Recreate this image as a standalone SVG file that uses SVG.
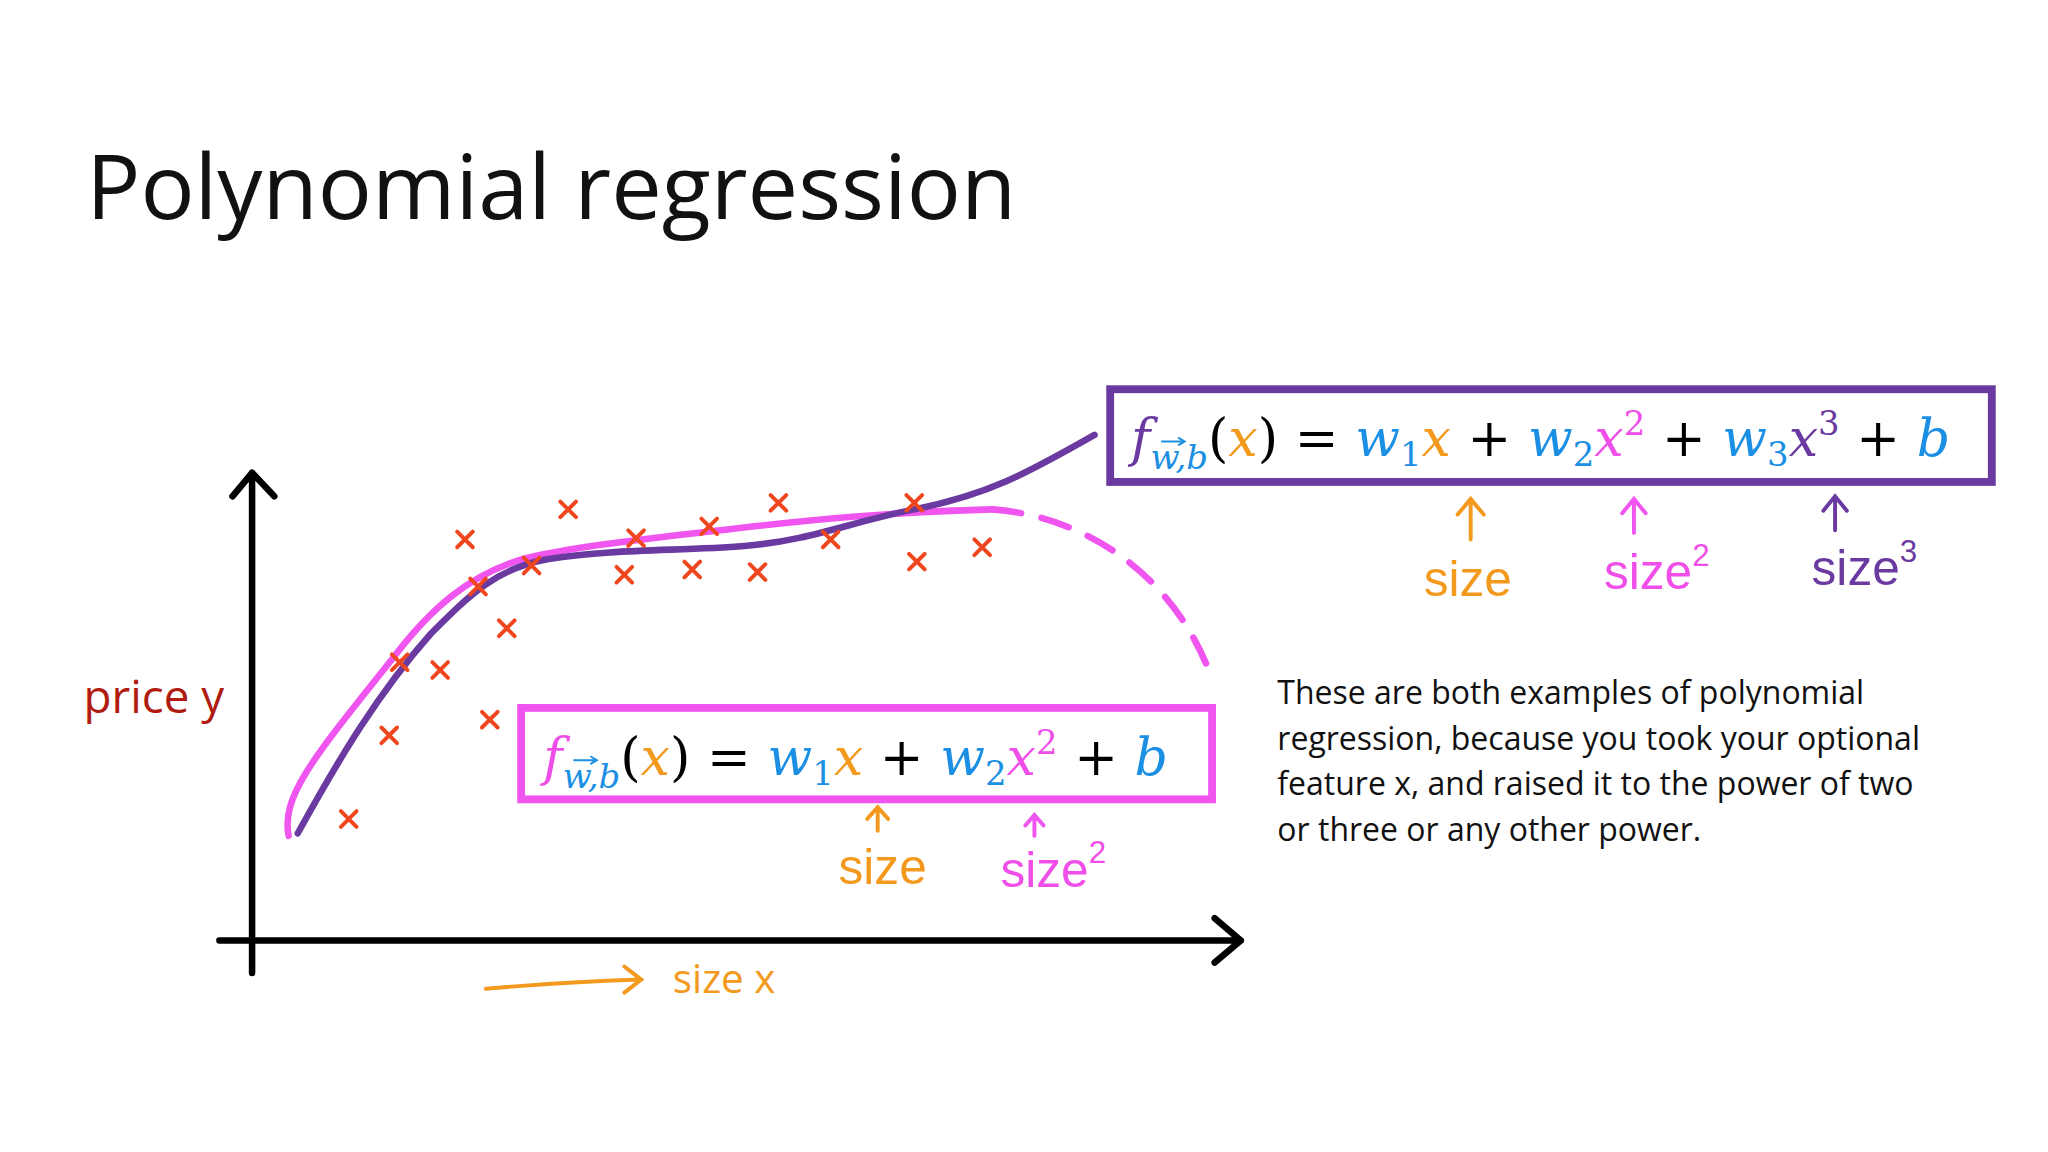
<svg xmlns="http://www.w3.org/2000/svg" width="2048" height="1152" viewBox="0 0 2048 1152">
<style>
.t{font-family:"Open Sans","Liberation Sans",sans-serif}
.m{font-family:"DejaVu Serif",serif;font-size:40px}
.i{font-style:italic}
.bl{fill:#1a8fe3}.or{fill:#f39a1e}.pk{fill:#f04ee8}.pu{fill:#6a3aa0}.k{fill:#000}
.h{font-family:"Liberation Sans",sans-serif;font-size:38px}
.x{stroke:#f0461e;stroke-width:3;stroke-linecap:round}
</style>
<defs>
<path id="cr" d="M-6,-6L6,6M-6,6L6,-6"/>
</defs>
<rect width="2048" height="1152" fill="#fff"/>
<g transform="scale(1.3061)">
<text class="t" x="66" y="168" font-size="69" fill="#111">Polynomial regression</text>
<g id="axes" stroke="#000" stroke-width="5" fill="none" stroke-linecap="round" stroke-linejoin="round">
<path d="M193,745V362M178,380L193,362L210,380"/>
<path d="M168,720H950M930,703L950,720L930,737"/>
</g>
<g id="labels">
<text class="t" x="64" y="546" font-size="35" fill="#b01c10">price y</text>
<text class="t" x="515" y="760" font-size="31" fill="#f39a1e">size x</text>
<path d="M372,757Q430,752 490,750M478,740L491,750L478,760" stroke="#f39a1e" stroke-width="3" fill="none" stroke-linecap="round"/>
</g>
<g id="curves" fill="none" stroke-linecap="round">
<path d="M221,640C215,610 240,580 300,505C330,465 360,440 400,428C440,418 500,412 560,405C620,398 680,392 760,390" stroke="#f055ef" stroke-width="5"/>
<path d="M760,390C830,395 900,440 928,520" stroke="#f055ef" stroke-width="5" stroke-dasharray="22,16"/>
<path d="M228,638C260,580 290,530 330,485C360,455 380,435 420,428C470,420 520,422 570,418C620,414 650,400 700,390C760,378 790,360 838,333" stroke="#6a3aa0" stroke-width="5"/>
</g>
<g id="points" class="x">
<use href="#cr" x="435" y="390"/><use href="#cr" x="356" y="413"/><use href="#cr" x="487" y="412"/>
<use href="#cr" x="543" y="403"/><use href="#cr" x="596" y="385"/><use href="#cr" x="700" y="385"/>
<use href="#cr" x="636" y="413"/><use href="#cr" x="752" y="419"/><use href="#cr" x="702" y="430"/>
<use href="#cr" x="478" y="440"/><use href="#cr" x="530" y="436"/><use href="#cr" x="580" y="438"/>
<use href="#cr" x="407" y="433"/><use href="#cr" x="366" y="449"/><use href="#cr" x="388" y="481"/>
<use href="#cr" x="306" y="507"/><use href="#cr" x="337" y="513"/><use href="#cr" x="298" y="563"/>
<use href="#cr" x="375" y="551"/><use href="#cr" x="267" y="627"/>
</g>
<g id="cubic">
<rect x="850" y="298" width="675" height="71" fill="#fff" stroke="#6a3aa0" stroke-width="6"/>
<text class="m" x="866" y="349"><tspan class="i pu">f</tspan><tspan class="i bl" font-size="26" dy="10">w,b</tspan><tspan class="k" dy="-10">(</tspan><tspan class="i or">x</tspan><tspan class="k">) = </tspan><tspan class="i bl">w</tspan><tspan class="bl" font-size="26" dy="8">1</tspan><tspan class="i or" dy="-8">x</tspan><tspan class="k"> + </tspan><tspan class="i bl">w</tspan><tspan class="bl" font-size="26" dy="8">2</tspan><tspan class="i pk" dy="-8">x</tspan><tspan class="pk" font-size="26" dy="-16">2</tspan><tspan class="k" dy="16"> + </tspan><tspan class="i bl">w</tspan><tspan class="bl" font-size="26" dy="8">3</tspan><tspan class="i pu" dy="-8">x</tspan><tspan class="pu" font-size="26" dy="-16">3</tspan><tspan class="k" dy="16"> + </tspan><tspan class="i bl">b</tspan></text>
<path d="M889,338H906M902,335L907,338L902,341" stroke="#1a8fe3" stroke-width="1.5" fill="none"/>
<g fill="none" stroke-width="3" stroke-linecap="round">
<path d="M1126,413V382M1116,394L1126,382L1136,394" stroke="#f39a1e"/>
<path d="M1251,408V382M1242,393L1251,382L1260,393" stroke="#f055ef"/>
<path d="M1405,406V380M1396,391L1405,380L1414,391" stroke="#6a3aa0"/>
</g>
<text class="h or" x="1090" y="456">size</text>
<text class="h pk" x="1228" y="451">size<tspan font-size="24" dy="-18">2</tspan></text>
<text class="h pu" x="1387" y="448">size<tspan font-size="24" dy="-18">3</tspan></text>
</g>
<g id="quadratic">
<rect x="399" y="542" width="529" height="70" fill="#fff" stroke="#f055ef" stroke-width="6"/>
<text class="m" x="416" y="593"><tspan class="i pk">f</tspan><tspan class="i bl" font-size="26" dy="10">w,b</tspan><tspan class="k" dy="-10">(</tspan><tspan class="i or">x</tspan><tspan class="k">) = </tspan><tspan class="i bl">w</tspan><tspan class="bl" font-size="26" dy="8">1</tspan><tspan class="i or" dy="-8">x</tspan><tspan class="k"> + </tspan><tspan class="i bl">w</tspan><tspan class="bl" font-size="26" dy="8">2</tspan><tspan class="i pk" dy="-8">x</tspan><tspan class="pk" font-size="26" dy="-16">2</tspan><tspan class="k" dy="16"> + </tspan><tspan class="i bl">b</tspan></text>
<path d="M439,582H456M452,579L457,582L452,585" stroke="#1a8fe3" stroke-width="1.5" fill="none"/>
<g fill="none" stroke-width="3" stroke-linecap="round">
<path d="M672,636V618M664,627L672,618L680,627" stroke="#f39a1e"/>
<path d="M792,640V624M785,632L792,624L799,632" stroke="#f055ef"/>
</g>
<text class="h or" x="642" y="677">size</text>
<text class="h pk" x="766" y="679">size<tspan font-size="24" dy="-18">2</tspan></text>
</g>
<g id="note" class="t" font-size="24.5" fill="#111">
<text x="978" y="539">These are both examples of polynomial</text>
<text x="978" y="574">regression, because you took your optional</text>
<text x="978" y="609">feature x, and raised it to the power of two</text>
<text x="978" y="644">or three or any other power.</text>
</g>
</g>
</svg>
